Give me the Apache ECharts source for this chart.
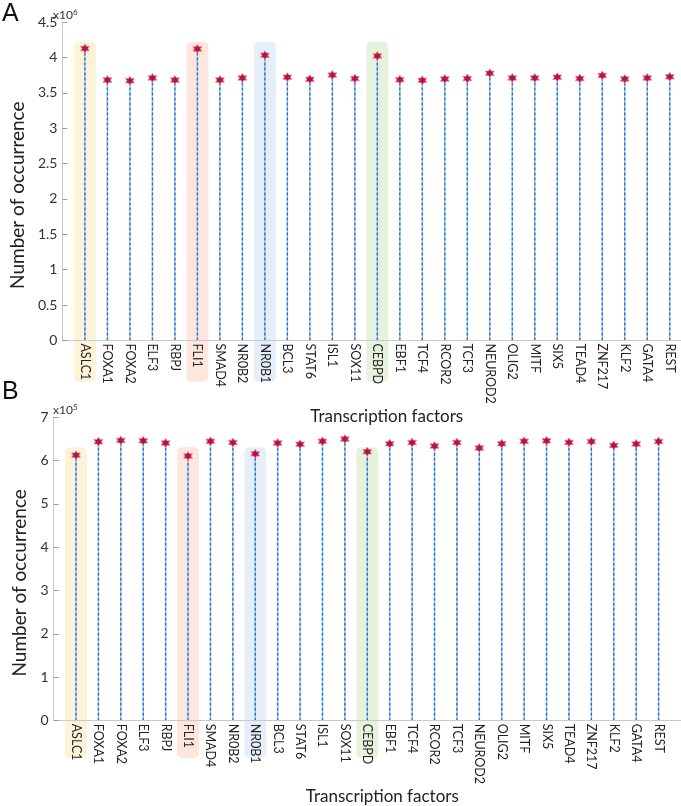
<!DOCTYPE html>
<html><head><meta charset="utf-8">
<script src="https://cdn.jsdelivr.net/npm/echarts@6/dist/echarts.min.js"></script>
<style>html,body{margin:0;padding:0;background:#fff}#c{width:681px;height:806px}</style>
</head><body><div id="c"></div>
<script>
const categories = ['ASLC1','FOXA1','FOXA2','ELF3','RBPJ','FLI1','SMAD4','NR0B2','NR0B1','BCL3','STAT6','ISL1','SOX11','CEBPD','EBF1','TCF4','RCOR2','TCF3','NEUROD2','OLIG2','MITF','SIX5','TEAD4','ZNF217','KLF2','GATA4','REST'];
// Panel A, units of 10^6
const countsA = [4.125,3.68,3.67,3.71,3.68,4.12,3.68,3.71,4.03,3.72,3.69,3.75,3.70,4.02,3.685,3.675,3.695,3.70,3.775,3.71,3.71,3.72,3.70,3.745,3.695,3.71,3.725];
// Panel B, units of 10^5
const countsB = [6.12,6.43,6.46,6.45,6.40,6.10,6.44,6.41,6.15,6.40,6.37,6.44,6.49,6.20,6.385,6.41,6.33,6.41,6.285,6.385,6.44,6.45,6.415,6.435,6.345,6.38,6.435];
const highlighted = ['ASLC1','FLI1','NR0B1','CEBPD'];
const yTicksA = {min:0, max:4.5, step:0.5};
const yTicksB = {min:0, max:7, step:1};
const axisTitleX = 'Transcription factors';
const axisTitleY = 'Number of occurrence';

const hlColors = {ASLC1:'#fdf3d8', FLI1:'#fde6dc', NR0B1:'#e5eef9', CEBPD:'#e7f2dd'};
const FONT = 'Lato';
const hexagram = 'path://M0,-100 L28.9,-50 L86.6,-50 L57.7,0 L86.6,50 L28.9,50 L0,100 L-28.9,50 L-86.6,50 L-57.7,0 L-86.6,-50 L-28.9,-50 Z';

function hlSeries(idx, topVal, botVal){
  return {
    type:'custom', xAxisIndex:idx, yAxisIndex:idx, z:1, silent:true,
    data: highlighted.map(n => [categories.indexOf(n)+1]),
    renderItem:(params, api)=>{
      const x = api.value(0);
      const p0 = api.coord([x-0.49, topVal]);
      const p1 = api.coord([x+0.49, botVal]);
      return {type:'rect', shape:{x:p0[0], y:p0[1], width:p1[0]-p0[0], height:p1[1]-p0[1], r:5},
        style:{fill: hlColors[highlighted[params.dataIndex]]}};
    }
  };
}
function stemSeries(idx, arr){
  return {
    type:'custom', xAxisIndex:idx, yAxisIndex:idx, z:3, silent:true,
    data: arr.map((v,i)=>[i+1, v]),
    renderItem:(params, api)=>{
      const p0 = api.coord([api.value(0), 0]);
      const p1 = api.coord([api.value(0), api.value(1)]);
      const shape = {x1:p0[0], y1:p0[1], x2:p1[0], y2:p1[1]};
      return {type:'group', children:[
        {type:'line', shape, style:{stroke:'#a8cdf0', lineWidth:1.6}},
        {type:'line', shape, style:{stroke:'#1f6fcc', lineWidth:1.3, lineDash:[3,2]}}
      ]};
    }
  };
}
function starSeries(idx, arr){
  return {
    type:'scatter', xAxisIndex:idx, yAxisIndex:idx, z:6, silent:true,
    symbol: hexagram, symbolSize: 9,
    itemStyle:{color:'#b3173c', borderColor:'#ec8fa3', borderWidth:0.8, opacity:1},
    data: arr.map((v,i)=>[i+1, v])
  };
}
function xAx(idx, max){
  return {
    type:'value', gridIndex:idx, min:0, max:max, interval:1, z:5,
    axisLine:{show:true, lineStyle:{color:'#c9c9c9', width:1}},
    axisTick:{show:false}, splitLine:{show:false},
    axisLabel:{rotate:-90, margin:3, fontFamily:FONT, fontSize:12.5, color:'#222', showMaxLabel:false,
      formatter:v => (Number.isInteger(v) && v>=1 && v<=categories.length) ? categories[v-1] : ''},
    name: axisTitleX, nameLocation:'middle', nameGap:47,
    nameTextStyle:{fontFamily:FONT, fontSize:17, color:'#222', padding:[0,0,0,30]}
  };
}
function yAx(idx, t){
  return {
    type:'value', gridIndex:idx, min:t.min, max:t.max, interval:t.step, z:5,
    axisLine:{show:true, lineStyle:{color:'#c9c9c9', width:1}},
    axisTick:{show:true, inside:true, length:5, lineStyle:{color:'#9a9a9a'}},
    splitLine:{show:false},
    axisLabel:{margin:5, fontFamily:FONT, fontSize:14, color:'#333'},
    name: axisTitleY, nameLocation:'middle', nameGap:19,
    nameTextStyle:{fontFamily:FONT, fontSize:19, color:'#222', padding:[0,28,0,0]}
  };
}
const chart = echarts.init(document.getElementById('c'), null, {renderer:'canvas'});
chart.setOption({
  animation:false,
  grid:[
    {left:52, right:0, top:22, height:318.4, containLabel:false},
    {left:53.6, right:0, top:417, height:322.4, containLabel:false}
  ],
  xAxis:[xAx(0, 27.5), xAx(1, 28)],
  yAxis:[yAx(0, yTicksA), yAx(1, yTicksB)],
  graphic:[
    {type:'text', left:2, top:2, style:{text:'A', fontFamily:'Liberation Sans', fontSize:25, fill:'#111'}},
    {type:'text', left:2, top:380, style:{text:'B', fontFamily:'Liberation Sans', fontSize:25, fill:'#111'}},
    {type:'text', left:53, top:8, style:{text:'x10{s|6}', fontFamily:FONT, fontSize:12, fill:'#333', rich:{s:{fontSize:8, verticalAlign:'top', padding:[0,0,6,0], fontFamily:FONT, fill:'#333'}}}},
    {type:'text', left:53, top:403, style:{text:'x10{s|5}', fontFamily:FONT, fontSize:12, fill:'#333', rich:{s:{fontSize:8, verticalAlign:'top', padding:[0,0,6,0], fontFamily:FONT, fill:'#333'}}}}
  ],
  series:[
    hlSeries(0, 4.22, -0.583), stemSeries(0, countsA), starSeries(0, countsA),
    hlSeries(1, 6.30, -0.866), stemSeries(1, countsB), starSeries(1, countsB)
  ]
});
</script></body></html>
